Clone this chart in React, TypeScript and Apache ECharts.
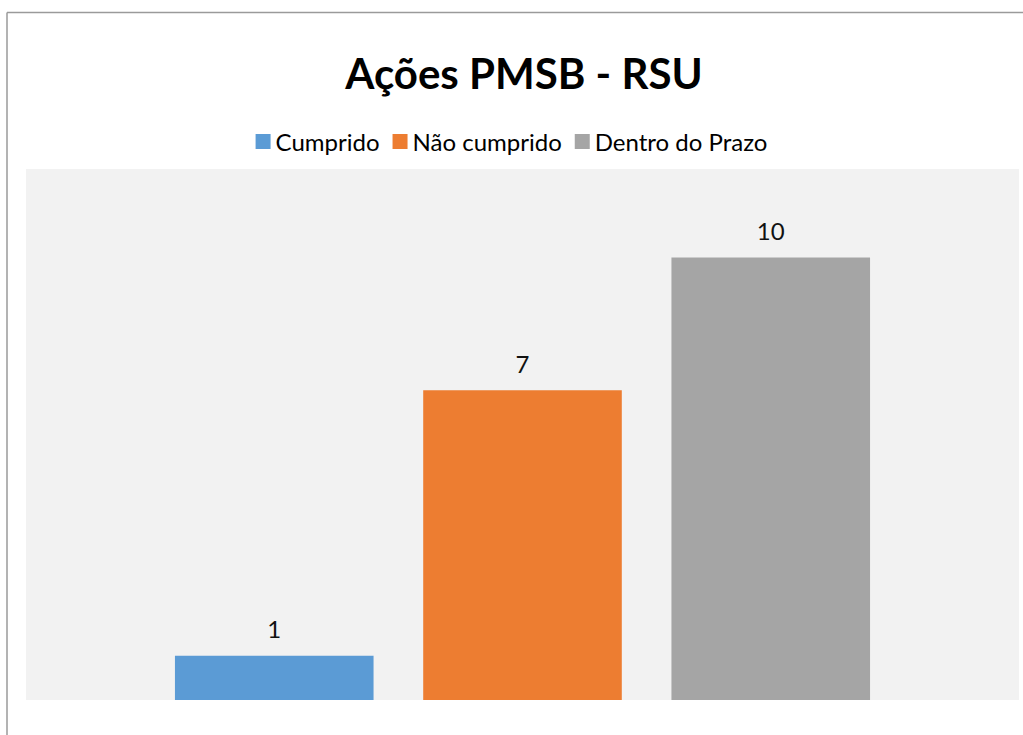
import React, { useEffect, useRef } from "react";
import * as echarts from "echarts";

const titleText = "Ações PMSB - RSU";
const categories = [""];
const seriesNames = ["Cumprido", "Não cumprido", "Dentro do Prazo"];
const seriesValues = [1, 7, 10];
const seriesColors = ["#5B9BD5", "#ED7D31", "#A5A5A5"];
const yMax = 12;

const FONT = "Lato, 'Open Sans', sans-serif";

export default function App() {
  const ref = useRef<HTMLDivElement>(null);
  useEffect(() => {
    if (!ref.current) return;
    const chart = echarts.init(ref.current, undefined, { renderer: "svg" });
    chart.setOption({
      animation: false,
      backgroundColor: "#ffffff",
      graphic: [
        {
          type: "line",
          shape: { x1: 7, y1: 12.5, x2: 1023, y2: 12.5 },
          style: { stroke: "#9a9a9a", lineWidth: 1.5 },
          silent: true,
        },
        {
          type: "line",
          shape: { x1: 7, y1: 12.5, x2: 7, y2: 735 },
          style: { stroke: "#9a9a9a", lineWidth: 1.5 },
          silent: true,
        },
        {
          type: "text",
          x: 524,
          y: 73,
          style: {
            text: titleText,
            fontFamily: FONT,
            fontWeight: "bold",
            fontSize: 42,
            fill: "#000000",
            textAlign: "center",
            textVerticalAlign: "middle",
          },
        },
      ],
      legend: {
        data: seriesNames,
        left: "center",
        top: 129.5,
        padding: 0,
        icon: "rect",
        itemWidth: 15,
        itemHeight: 15,
        itemGap: 13,
        textStyle: { fontFamily: FONT, fontSize: 24, color: "#000000" },
      },
      grid: {
        left: 26,
        right: 4,
        top: 169,
        bottom: 35,
        show: true,
        backgroundColor: "#F2F2F2",
        borderWidth: 0,
      },
      xAxis: {
        type: "category",
        data: categories,
        show: false,
      },
      yAxis: {
        type: "value",
        min: 0,
        max: yMax,
        show: false,
        splitLine: { show: false },
      },
      series: seriesNames.map((name, i) => ({
        name,
        type: "bar",
        data: [seriesValues[i]],
        itemStyle: { color: seriesColors[i] },
        barGap: "25%",
        barCategoryGap: "30%",
        label: {
          show: true,
          position: "top",
          distance: 15,
          fontFamily: FONT,
          fontSize: 24,
          color: "#111111",
        },
      })),
    });
    return () => chart.dispose();
  }, []);
  return (
    <div
      ref={ref}
      style={{ position: "fixed", left: 0, top: 0, width: 1023, height: 735 }}
    />
  );
}
